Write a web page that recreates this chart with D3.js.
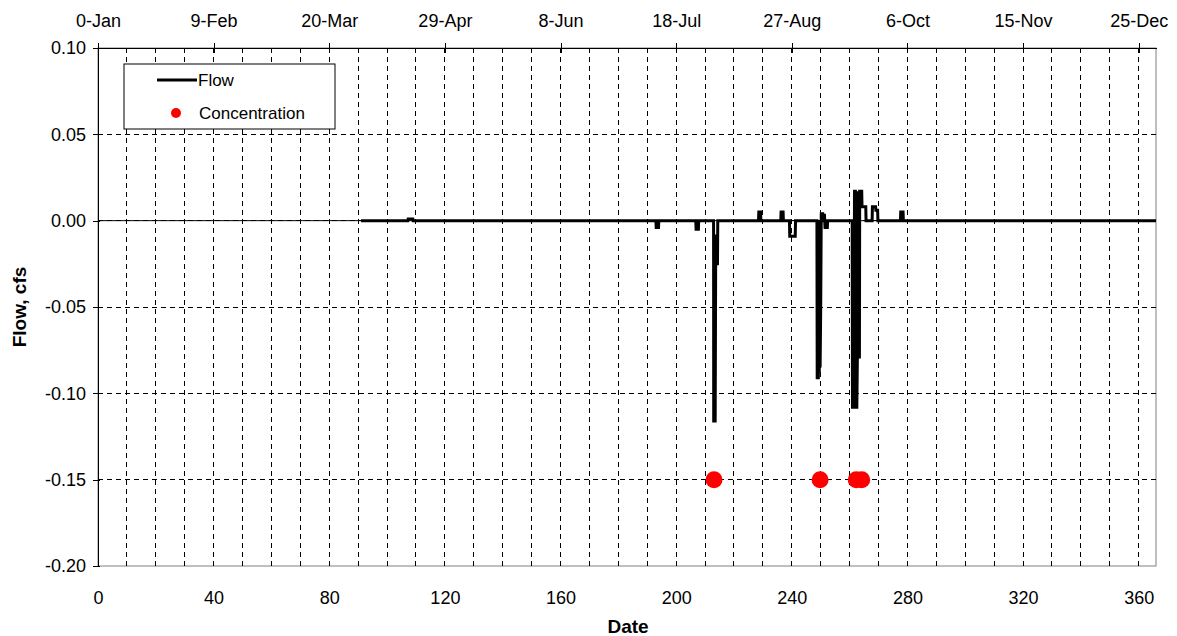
<!DOCTYPE html>
<html>
<head>
<meta charset="utf-8">
<script src="https://cdn.jsdelivr.net/npm/d3@7"></script>
<style>
  body { margin: 0; background: #fff; }
  text { font-family: "Liberation Sans", Arial, sans-serif; fill: #000; }
</style>
</head>
<body>
<div id="chart"></div>
<script>
var svgWidth = 1177;
var svgHeight = 636;

// data (day of year, cfs)
var flowDay = [91, 107.2, 107.3, 108.9, 109.0, 193.0, 193.1, 193.9, 194.0, 206.8, 206.9, 207.7, 207.8,
  212.95, 213.0, 213.5, 213.6, 213.7, 214.0, 214.3, 214.4,
  228.5, 228.6, 229.2, 229.3, 236.2, 236.3, 237.0, 237.1, 239.2, 239.3, 241.2, 241.3,
  248.7, 248.8, 249.2, 249.35, 249.5, 249.7, 249.8, 250.0, 250.2, 250.7, 250.8, 251.2, 251.3, 251.5, 252.3, 252.4,
  260.9, 261.0, 261.5, 261.7, 262.0, 262.2, 262.5, 262.7, 262.9, 263.0, 263.1, 263.4, 263.5, 264.2, 264.3, 265.6, 265.7,
  267.8, 267.9, 269.0, 269.1, 269.7, 269.8, 277.6, 277.7, 278.5, 278.6, 366];
var flowCfs = [0, 0, 0.001, 0.001, 0, 0, -0.004, -0.004, 0, 0, -0.005, -0.005, 0,
  0, -0.116, -0.116, -0.064, -0.008, -0.025, -0.025, 0,
  0, 0.005, 0.005, 0, 0, 0.005, 0.005, 0, 0, -0.009, -0.009, 0,
  0, -0.091, -0.091, 0, -0.088, -0.06, -0.085, -0.052, 0.004, 0.004, 0, 0, 0.004, -0.004, -0.004, 0,
  0, -0.108, -0.108, 0.017, 0.017, -0.108, -0.108, -0.079, -0.079, 0.017, -0.079, -0.079, 0.017, 0.017, 0.008, 0.008, 0,
  0, 0.008, 0.008, 0.006, 0.006, 0, 0, 0.005, 0.005, 0, 0];

var concDay = [213.1, 249.8, 262.3, 264.2];
var concValue = [-0.15, -0.15, -0.15, -0.15];

var dayTicks = [0, 40, 80, 120, 160, 200, 240, 280, 320, 360];
var dateLabels = ["0-Jan", "9-Feb", "20-Mar", "29-Apr", "8-Jun", "18-Jul", "27-Aug", "6-Oct", "15-Nov", "25-Dec"];
var flowTicks = [0.10, 0.05, 0.00, -0.05, -0.10, -0.15, -0.20];

var margin = { top: 48, right: 21, bottom: 70, left: 98 };
var width = svgWidth - margin.left - margin.right;
var height = svgHeight - margin.top - margin.bottom;

var svg = d3.select("#chart")
  .append("svg")
  .attr("width", svgWidth)
  .attr("height", svgHeight);

var chartGroup = svg.append("g")
  .attr("transform", `translate(${margin.left}, ${margin.top})`);

// scales
var xLinearScale = d3.scaleLinear().domain([0, 366]).range([0, width]);
var yLinearScale = d3.scaleLinear().domain([-0.20, 0.10]).range([height, 0]);

// plot area border
chartGroup.append("rect")
  .attr("width", width)
  .attr("height", height)
  .attr("fill", "none")
  .attr("stroke", "#808080");

// dashed grid
chartGroup.append("g")
  .selectAll("line")
  .data(d3.range(10, 361, 10))
  .enter()
  .append("line")
  .attr("x1", d => xLinearScale(d))
  .attr("x2", d => xLinearScale(d))
  .attr("y1", 0)
  .attr("y2", height)
  .attr("stroke", "#000")
  .attr("stroke-dasharray", "5,4")
  .attr("shape-rendering", "crispEdges");

chartGroup.append("g")
  .selectAll("line")
  .data(flowTicks.slice(1, -1))
  .enter()
  .append("line")
  .attr("x1", 0)
  .attr("x2", width)
  .attr("y1", d => yLinearScale(d))
  .attr("y2", d => yLinearScale(d))
  .attr("stroke", "#000")
  .attr("stroke-dasharray", "5,4")
  .attr("shape-rendering", "crispEdges");

// axes
var leftAxis = d3.axisLeft(yLinearScale)
  .tickValues(flowTicks)
  .tickFormat(d => d.toFixed(2))
  .tickSizeInner(5)
  .tickSizeOuter(0)
  .tickPadding(7);

var topAxis = d3.axisTop(xLinearScale)
  .tickValues(dayTicks)
  .tickFormat((d, i) => dateLabels[i])
  .tickSizeInner(5)
  .tickSizeOuter(0)
  .tickPadding(16);

var bottomAxis = d3.axisBottom(xLinearScale)
  .tickValues(dayTicks)
  .tickSize(0)
  .tickPadding(25);

var yAxisG = chartGroup.append("g").call(leftAxis);
var topAxisG = chartGroup.append("g").call(topAxis);
var bottomAxisG = chartGroup.append("g")
  .attr("transform", `translate(0, ${height})`)
  .call(bottomAxis);
bottomAxisG.select(".domain").remove();

// cross style ticks
yAxisG.selectAll(".tick line").attr("x2", -5).attr("x1", 2);
topAxisG.selectAll(".tick line").attr("y2", -5).attr("y1", 5);

[yAxisG, topAxisG, bottomAxisG].forEach(function(g) {
  g.selectAll("text")
    .style("font-size", "18px")
    .style("font-family", "Liberation Sans, Arial, sans-serif");
  g.selectAll("line, path").attr("stroke", "#000").attr("shape-rendering", "crispEdges");
});

// zero line (category axis crossing)
chartGroup.append("line")
  .attr("x1", 0)
  .attr("x2", width)
  .attr("y1", yLinearScale(0))
  .attr("y2", yLinearScale(0))
  .attr("stroke", "#000")
  .attr("stroke-width", 1);

// flow line
var flowData = flowDay.map((d, i) => ({ day: d, cfs: flowCfs[i] }));
var flowLine = d3.line()
  .x(d => xLinearScale(d.day))
  .y(d => yLinearScale(d.cfs));

chartGroup.append("path")
  .datum(flowData)
  .attr("d", flowLine)
  .attr("fill", "none")
  .attr("stroke", "#000")
  .attr("stroke-width", 3)
  .attr("stroke-linejoin", "miter")
  .attr("stroke-miterlimit", 2);

// concentration points
var concData = concDay.map((d, i) => ({ day: d, value: concValue[i] }));
chartGroup.append("g")
  .selectAll("circle")
  .data(concData)
  .enter()
  .append("circle")
  .attr("cx", d => xLinearScale(d.day))
  .attr("cy", d => yLinearScale(d.value))
  .attr("r", 8.5)
  .attr("fill", "#ff0000");

// legend
var legend = svg.append("g").attr("transform", "translate(124, 64)");
legend.append("rect")
  .attr("width", 211)
  .attr("height", 65)
  .attr("fill", "#fff")
  .attr("stroke", "#000");
legend.append("line")
  .attr("x1", 33).attr("x2", 73)
  .attr("y1", 16).attr("y2", 16)
  .attr("stroke", "#000")
  .attr("stroke-width", 3);
legend.append("text")
  .attr("x", 74).attr("y", 16)
  .attr("dy", "0.35em")
  .style("font-size", "17px")
  .text("Flow");
legend.append("circle")
  .attr("cx", 52).attr("cy", 49)
  .attr("r", 5)
  .attr("fill", "#ff0000");
legend.append("text")
  .attr("x", 75).attr("y", 49)
  .attr("dy", "0.35em")
  .style("font-size", "17px")
  .text("Concentration");

// axes labels
svg.append("text")
  .attr("transform", `translate(19, ${margin.top + height / 2}) rotate(-90)`)
  .attr("text-anchor", "middle")
  .attr("dy", "0.35em")
  .style("font-size", "19px")
  .style("font-weight", "bold")
  .text("Flow, cfs");

svg.append("text")
  .attr("x", 628)
  .attr("y", 626)
  .attr("text-anchor", "middle")
  .attr("dy", "0.35em")
  .style("font-size", "19px")
  .style("font-weight", "bold")
  .text("Date");
</script>
</body>
</html>
